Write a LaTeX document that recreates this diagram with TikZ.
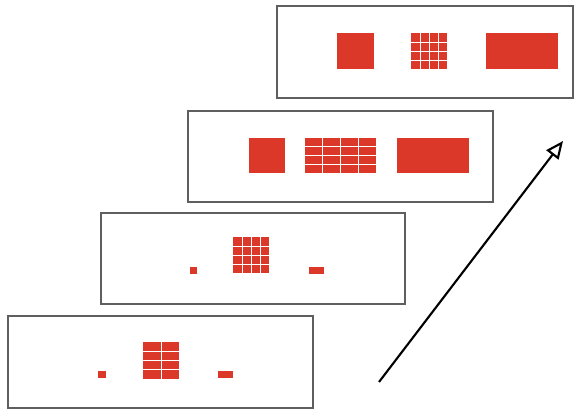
\documentclass[tikz,border=0pt]{standalone}
\usetikzlibrary{arrows.meta}
\definecolor{cellred}{RGB}{220,56,42}
\definecolor{framegray}{RGB}{95,95,95}
\tikzset{
  frame/.style={draw=framegray,line width=1.3pt,fill=white},
  block/.style={fill=cellred},
  cut/.style={draw=white,line width=0.8pt}
}
\begin{document}
\begin{tikzpicture}[x=0.03cm,y=-0.03cm]
\useasboundingbox (0,0) rectangle (578,411);

% bottom panel
\draw[frame] (8,316) rectangle (313,408);
\fill[block] (98,371) rectangle (106,378);
\fill[block] (143,342) rectangle (179,379);
\draw[cut] (161,342) -- (161,379);
\foreach \j in {1,2,3} \draw[cut] (143,{342+9.25*\j}) -- (179,{342+9.25*\j});
\fill[block] (218,371) rectangle (233,378);

% second panel
\draw[frame] (101,213) rectangle (405,304);
\fill[block] (190,267) rectangle (197,274);
\fill[block] (233,237) rectangle (269,273);
\foreach \i in {1,2,3} {
  \draw[cut] ({233+9*\i},237) -- ({233+9*\i},273);
  \draw[cut] (233,{237+9*\i}) -- (269,{237+9*\i});
}
\fill[block] (309,267) rectangle (324,274);

% third panel
\draw[frame] (188,111) rectangle (493,202);
\fill[block] (249,138) rectangle (285,173);
\fill[block] (305,138) rectangle (376,173);
\foreach \i in {1,2,3} {
  \draw[cut] ({305+17.75*\i},138) -- ({305+17.75*\i},173);
  \draw[cut] (305,{138+8.75*\i}) -- (376,{138+8.75*\i});
}
\fill[block] (397,138) rectangle (469,173);

% top panel
\draw[frame] (277,6) rectangle (573,98);
\fill[block] (337,33) rectangle (374,69);
\fill[block] (411,33) rectangle (447,69);
\foreach \i in {1,2,3} {
  \draw[cut] ({411+9*\i},33) -- ({411+9*\i},69);
  \draw[cut] (411,{33+9*\i}) -- (447,{33+9*\i});
}
\fill[block] (486,33) rectangle (558,69);

% arrow
\coordinate (tail) at (379,382);
\coordinate (tip) at (563,141);
\draw[line width=1.8pt,-{Triangle[open,length=15pt,width=13pt]}] (tail) -- (tip);

\end{tikzpicture}
\end{document}
